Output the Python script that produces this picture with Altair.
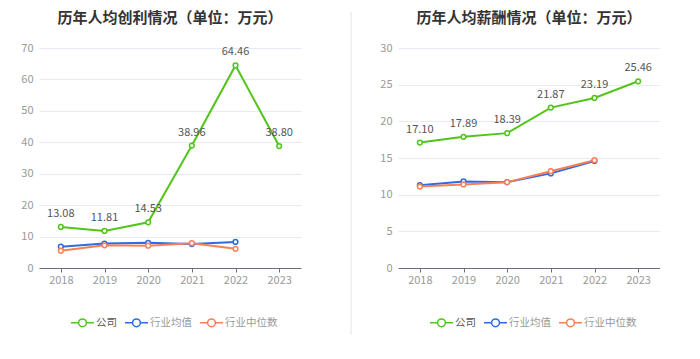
import altair as alt
import pandas as pd

years = ["2018", "2019", "2020", "2021", "2022", "2023"]
series = ["公司", "行业均值", "行业中位数"]
colors = ["#52c41a", "#2f6be4", "#fa7f55"]

profit_company = [13.08, 11.81, 14.53, 38.96, 64.46, 38.80]
profit_mean = [6.8, 7.8, 8.0, 7.6, 8.3]
profit_median = [5.5, 7.2, 7.1, 7.9, 6.1]

salary_company = [17.10, 17.89, 18.39, 21.87, 23.19, 25.46]
salary_mean = [11.3, 11.8, 11.7, 12.9, 14.6]
salary_median = [11.1, 11.4, 11.7, 13.2, 14.7]

FONT = "Noto Sans CJK SC"
LEGEND_SYMBOL = ("M-1,0H-0.34M0.34,0H1M-0.34,0A0.34,0.34,0,1,1,0.34,0"
                 "A0.34,0.34,0,1,1,-0.34,0Z")


def make_df(company, mean, median):
    rows = []
    for name, vals in zip(series, [company, mean, median]):
        for y, v in zip(years, vals):
            rows.append({"year": y, "series": name, "value": v})
    return pd.DataFrame(rows)


def panel(df, title, ymax, step):
    color_scale = alt.Scale(domain=series, range=colors)
    x = alt.X("year:N", sort=years, scale=alt.Scale(domain=years, paddingOuter=0.5, paddingInner=0),
              axis=alt.Axis(title=None, labelAngle=0, labelColor="#999999", labelFontSize=11,
                            labelFont=FONT, labelPadding=2, domainColor="#6e7079", tickColor="#6e7079",
                            tickSize=4, grid=False))
    y = alt.Y("value:Q", scale=alt.Scale(domain=[0, ymax], nice=False),
              axis=alt.Axis(title=None, values=list(range(0, ymax + 1, step)), labelColor="#999999",
                            labelFontSize=11, labelFont=FONT, labelPadding=6, domain=False, ticks=False,
                            gridColor="#e6eaf3", gridWidth=1))
    leg = alt.Legend(title=None, orient="none", legendX=31, legendY=262,
                     direction="horizontal", symbolType=LEGEND_SYMBOL,
                     symbolSize=529, symbolStrokeWidth=1.5,
                     symbolFillColor="white",
                     symbolOpacity=alt.ExprRef("datum.value == '公司' ? 1 : 0.55"),
                     labelColor=alt.ExprRef("datum.value == '公司' ? '#555555' : '#999999'"),
                     labelFontSize=10.5, labelFont=FONT, labelOffset=1,
                     columnPadding=5)
    base = alt.Chart(df)
    layers = []
    for i, s in enumerate(series):
        sub = base.transform_filter(alt.datum.series == s)
        if i == 0:
            c = alt.Color("series:N", scale=color_scale, legend=leg)
        else:
            c = alt.Color("series:N", scale=color_scale)
        layers.append(sub.mark_line(strokeWidth=2).encode(x=x, y=y, color=c))
    for s in series:
        sub = base.transform_filter(alt.datum.series == s)
        layers.append(sub.mark_point(filled=False, fill="white", fillOpacity=1, size=22,
                                     strokeWidth=1.5, opacity=1).encode(
            x=x, y=y, color=alt.Color("series:N", scale=color_scale)))
    text = base.transform_filter(alt.datum.series == "公司").mark_text(
        dy=-13, fontSize=11, font=FONT, color="#555555").encode(
        x=x, y=y, text=alt.Text("value:Q", format=".2f"))
    layers.append(text)
    return alt.layer(*layers).properties(
        width=262, height=220,
        title=alt.TitleParams(title, fontSize=15, font=FONT, fontWeight="bold", color="#333333",
                              anchor="middle", offset=16))


left = panel(make_df(profit_company, profit_mean, profit_median),
             "历年人均创利情况（单位：万元）", 70, 10)
right = panel(make_df(salary_company, salary_mean, salary_median),
              "历年人均薪酬情况（单位：万元）", 30, 5)

divider = alt.Chart(pd.DataFrame({"year": years})).mark_rule(color="#f0f0f0", strokeWidth=1.5).encode(
    x=alt.value(23), y=alt.value(-36), y2=alt.value(287)).properties(width=23, height=220)

chart = alt.hconcat(left, divider, right, spacing=27).resolve_scale(
    color="independent").resolve_legend(color="independent").properties(
    padding={"left": 12, "top": 3, "right": 0, "bottom": 0}, background="white").configure_view(
    stroke=None)

chart.save("out.html", embed_options={"renderer": "svg", "actions": False})
